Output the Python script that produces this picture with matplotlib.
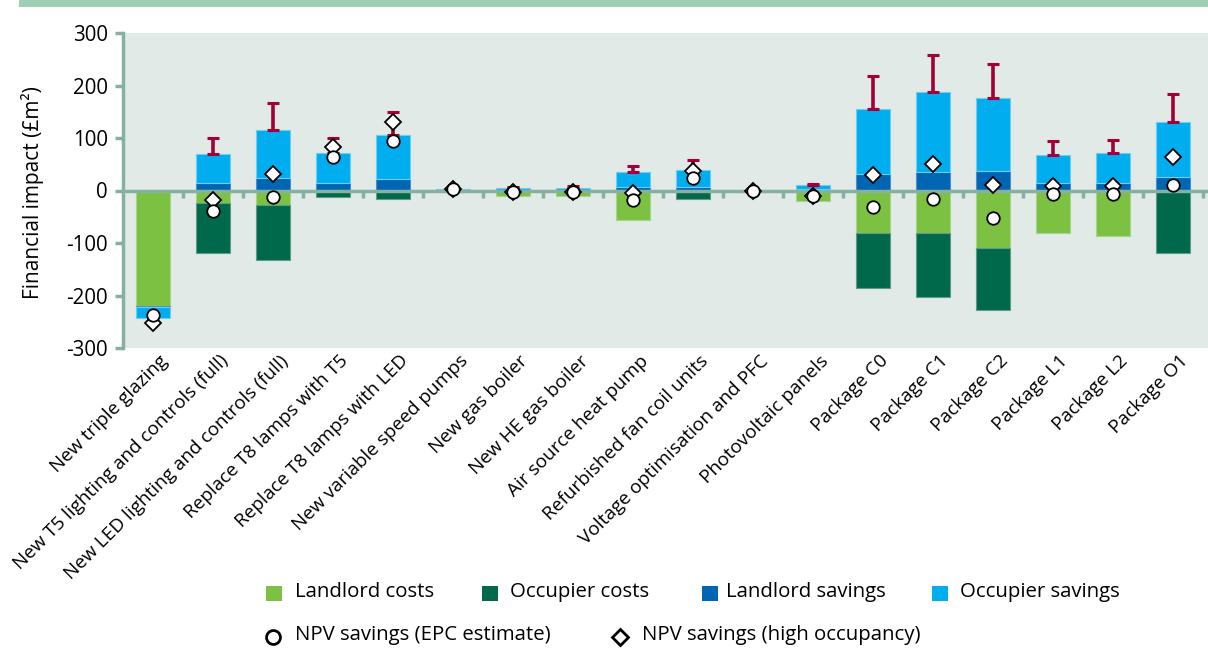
import numpy as np
import matplotlib
matplotlib.use("Agg")
import matplotlib.pyplot as plt
from matplotlib.patches import Rectangle
from matplotlib.lines import Line2D
import matplotlib.transforms as mtransforms

plt.rcParams['font.family'] = ['Open Sans', 'DejaVu Sans']

categories = [
    "New triple glazing", "New T5 lighting and controls (full)",
    "New LED lighting and controls (full)", "Replace T8 lamps with T5",
    "Replace T8 lamps with LED", "New variable speed pumps", "New gas boiler",
    "New HE gas boiler", "Air source heat pump", "Refurbished fan coil units",
    "Voltage optimisation and PFC", "Photovoltaic panels", "Package C0",
    "Package C1", "Package C2", "Package L1", "Package L2", "Package O1",
]
landlord_costs = [-220, -24, -28, 0, 0, -1, -10, -10, -56, 0, -2, -20, -81, -81, -109, -80, -87, 0]
occupier_costs = [0, -95, -104, -13, -16, 0, 0, 0, 0, -17, 0, 0, -105, -122, -119, 0, 0, -119]
landlord_savings = [-2.5, 13.5, 24, 13.5, 22, 0.5, 1, 1, 7, 7, 0, 3, 32, 35, 38, 13.5, 13.5, 25]
occupier_savings = [-19.5, 56.5, 92, 57.5, 84, 3, 4, 4, 29, 32, 0, 7, 123, 152, 138, 54.5, 57.5, 105]
savings_upper = [np.nan, 100, 166, 100, 149, np.nan, 7, 9, 47, 58, np.nan, 12, 219, 259, 241, 94, 97, 184]
npv_epc = [-238, -39, -12, 63, 94, 3, -3, -3, -18, 24, 0, -10, -31, -16, -52, -7, -7, 11]
npv_high = [-252, -18, 32, 82, 130, 3, -3, -3, -4, 38, 0, -10, 30, 51, 10, 9, 9, 63]

series_names = ["Landlord costs", "Occupier costs", "Landlord savings", "Occupier savings"]
series_colors = ["#7cc142", "#00694b", "#0066b3", "#00aeef"]
series_edges = ["#a6d68a", "#5f9c86", "#4d8fcc", "#6fcdf3"]
spine_col = "#86b0a0"

W, H = 1208, 664
fig = plt.figure(figsize=(W / 100, H / 100), dpi=100)
fig.patch.set_facecolor("white")

def fx(x):
    return x / W

def fy(y):
    return 1 - y / H

# top band
fig.add_artist(Rectangle((fx(19), fy(7)), fx(1208) - fx(19), 7 / H,
                         transform=fig.transFigure, facecolor="#9dd0b7", edgecolor="none"))

ax = fig.add_axes([fx(123), fy(348), 1 - fx(123), (348 - 33) / H])
ax.set_facecolor("#e1eae6")

n = len(categories)
x = np.arange(n)
pos_bottom = np.zeros(n)
neg_bottom = np.zeros(n)
for vals, col, ec in zip([landlord_costs, occupier_costs, landlord_savings, occupier_savings],
                         series_colors, series_edges):
    v = np.array(vals, dtype=float)
    bottoms = np.where(v >= 0, pos_bottom, neg_bottom)
    ax.bar(x, v, 0.57, bottom=bottoms, color=col, edgecolor=ec, linewidth=0.8, zorder=2)
    pos_bottom = pos_bottom + np.where(v > 0, v, 0)
    neg_bottom = neg_bottom + np.where(v < 0, v, 0)

# error bars above total savings
upper = np.array(savings_upper, dtype=float)
mask = ~np.isnan(upper)
err_hi = upper[mask] - pos_bottom[mask]
ax.errorbar(x[mask], pos_bottom[mask], yerr=[np.zeros(mask.sum()), err_hi], fmt="none",
            ecolor="#a3003a", elinewidth=2.6, capsize=4, capthick=2.2, zorder=3)

# zero line and category boundary ticks
ax.axhline(0, color=spine_col, lw=2.5, zorder=4)
ax.vlines(np.arange(n) + 0.5, -14, 0, color=spine_col, lw=2.5, zorder=4)

ax.plot(x, npv_high, linestyle="none", marker="D", ms=8, mfc="white", mec="black", mew=1.3, zorder=5)
ax.plot(x, npv_epc, linestyle="none", marker="o", ms=9, mfc="white", mec="black", mew=1.3, zorder=6)

ax.set_xlim(-0.5, -0.5 + (W - 123) / 60)
ax.set_ylim(-300, 300)
ax.set_yticks([-300, -200, -100, 0, 100, 200, 300])
ax.set_yticklabels(["-300", "-200", "-100", "0", "100", "200", "300"], fontsize=14.8)
ax.tick_params(axis="y", length=6, width=2.5, color=spine_col, pad=5)
ax.set_xticks([])
for s in ["top", "right", "bottom"]:
    ax.spines[s].set_visible(False)
ax.spines["left"].set_color(spine_col)
ax.spines["left"].set_linewidth(2.5)

trans = mtransforms.blended_transform_factory(ax.transData, ax.transAxes)
for i, lab in enumerate(categories):
    ax.text(i + 0.1, -0.012, lab, transform=trans, rotation=45, ha="right", va="top",
            rotation_mode="anchor", fontsize=13.7, clip_on=False)

fig.text(fx(33), fy(193), "Financial impact (£m²)", rotation=90, ha="center", va="center",
         fontsize=15)

# legend row 1
sq_x = [266, 482, 702, 932]
tx_x = [295, 510, 726, 960]
for sx, tx, name, col in zip(sq_x, tx_x, series_names, series_colors):
    fig.add_artist(Rectangle((fx(sx), fy(601)), 16 / W, 15 / H, transform=fig.transFigure,
                             facecolor=col, edgecolor="none"))
    fig.text(fx(tx), fy(592), name, ha="left", va="center", fontsize=14.7)

# legend row 2
fig.add_artist(Line2D([fx(273)], [fy(637)], marker="o", ms=10, mfc="white", mec="black", mew=2,
                      transform=fig.transFigure))
fig.text(fx(295), fy(635), "NPV savings (EPC estimate)", ha="left", va="center", fontsize=14.7)
fig.add_artist(Line2D([fx(620)], [fy(637)], marker="D", ms=8.5, mfc="white", mec="black", mew=2,
                      transform=fig.transFigure))
fig.text(fx(642), fy(635), "NPV savings (high occupancy)", ha="left", va="center", fontsize=14.7)

fig.savefig("out.png", dpi=100)
